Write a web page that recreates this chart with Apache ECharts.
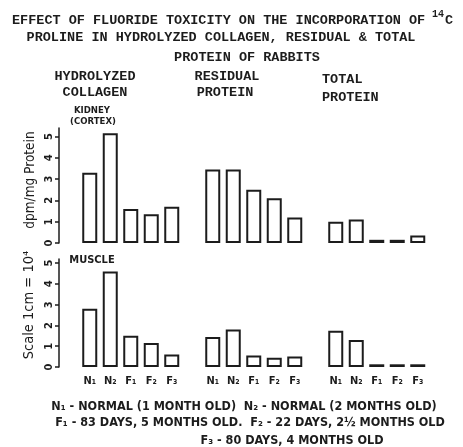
<!DOCTYPE html>
<html><head><meta charset="utf-8">
<script src="https://cdn.jsdelivr.net/npm/echarts@6/dist/echarts.min.js"></script>
<style>html,body{margin:0;padding:0;background:#fff}#c{width:463px;height:447px}</style>
</head><body><div id="c"></div>
<script>
// ---- data ----
const groupLabels = ['N₁', 'N₂', 'F₁', 'F₂', 'F₃'];
const yTicks = [0, 1, 2, 3, 4, 5];
const kidneyHydrolyzed = [3.3, 5.15, 1.6, 1.35, 1.7];
const kidneyResidual = [3.45, 3.45, 2.5, 2.1, 1.2];
const kidneyTotal = [1.0, 1.1, 0.15, 0.15, 0.35];
const muscleHydrolyzed = [2.8, 4.6, 1.5, 1.15, 0.6];
const muscleResidual = [1.45, 1.8, 0.55, 0.45, 0.5];
const muscleTotal = [1.75, 1.3, 0.13, 0.13, 0.13];

// category axis: spacer, group, spacer, group, spacer, group
const categories = ['', ...groupLabels, '', ...groupLabels, '', ...groupLabels];
const pad = (a, b, c) => ['-', ...a, '-', ...b, '-', ...c];

const INK = '#1c1c1c';
const mono = '"Liberation Mono", "DejaVu Sans Mono", monospace';
const sans = '"DejaVu Sans Condensed", "DejaVu Sans", sans-serif';

function yAxis(gi, max) {
  return {
    type: 'value', gridIndex: gi, min: 0, max: max, interval: 1,
    splitLine: { show: false },
    axisLine: { show: true, lineStyle: { color: INK, width: 1.5 } },
    axisTick: { show: true, customValues: yTicks, length: 4, lineStyle: { color: INK, width: 1.5 } },
    axisLabel: { customValues: yTicks, rotate: 90, fontSize: 11, fontWeight: 'bold', color: INK, margin: 4, fontFamily: sans }
  };
}
function xAxis(gi, showLabels) {
  return {
    type: 'category', gridIndex: gi, data: categories,
    axisLine: { show: false }, axisTick: { show: false },
    axisLabel: { show: showLabels, interval: 0, fontSize: 11, fontWeight: 'bold', color: INK, margin: 9, fontFamily: sans }
  };
}
const barStyle = { color: '#fff', borderColor: INK, borderWidth: 2 };

const chart = echarts.init(document.getElementById('c'), null, { renderer: 'canvas' });

function txt(text, x, y, font, align, extra) {
  return Object.assign({
    type: 'text', x: x, y: y,
    style: { text: text, font: font, fill: INK, align: align || 'center', verticalAlign: 'middle' }
  }, extra || {});
}
const tFont = 'bold 13.5px ' + mono;
const fFont = 'bold 12.5px ' + sans;

chart.setOption({
  backgroundColor: '#fff',
  animation: false,
  grid: [
    { left: 59, width: 369, top: 128, height: 115 },
    { left: 59, width: 369, top: 259, height: 108 }
  ],
  xAxis: [xAxis(0, false), xAxis(1, true)],
  yAxis: [yAxis(0, 5.4), yAxis(1, 5.2)],
  series: [
    { type: 'bar', xAxisIndex: 0, yAxisIndex: 0, barWidth: 15, itemStyle: barStyle,
      data: pad(kidneyHydrolyzed, kidneyResidual, kidneyTotal) },
    { type: 'bar', xAxisIndex: 1, yAxisIndex: 1, barWidth: 15, itemStyle: barStyle,
      data: pad(muscleHydrolyzed, muscleResidual, muscleTotal) }
  ],
  graphic: [
    txt('EFFECT OF FLUORIDE TOXICITY ON THE INCORPORATION OF', 12, 21, tFont, 'left'),
    txt('14', 432, 14, 'bold 10px ' + mono, 'left'),
    txt('C', 445, 21, tFont, 'left'),
    txt('PROLINE IN HYDROLYZED COLLAGEN, RESIDUAL & TOTAL', 221, 38, tFont),
    txt('PROTEIN OF RABBITS', 247, 58, tFont),
    txt('HYDROLYZED', 95, 77, tFont),
    txt('COLLAGEN', 95, 93, tFont),
    txt('RESIDUAL', 227, 77, tFont),
    txt('PROTEIN', 225, 93, tFont),
    txt('TOTAL', 322, 80, tFont, 'left'),
    txt('PROTEIN', 322, 98, tFont, 'left'),
    txt('KIDNEY', 92, 111, 'bold 9.5px ' + sans),
    txt('(CORTEX)', 93, 122, 'bold 9.5px ' + sans),
    txt('MUSCLE', 92, 260, 'bold 11px ' + sans),
    txt('dpm/mg Protein', 30, 180, '13.5px ' + sans, 'center', { rotation: Math.PI / 2 }),
    txt('Scale 1cm = 10⁴', 29, 305, '14.5px ' + sans, 'center', { rotation: Math.PI / 2 }),
    txt('N₁ - NORMAL (1 MONTH OLD)  N₂ - NORMAL (2 MONTHS OLD)', 244, 407, fFont),
    txt('F₁ - 83 DAYS, 5 MONTHS OLD.  F₂ - 22 DAYS, 2½ MONTHS OLD', 250, 423, fFont),
    txt('F₃ - 80 DAYS, 4 MONTHS OLD', 292, 441, fFont)
  ]
});
</script></body></html>
